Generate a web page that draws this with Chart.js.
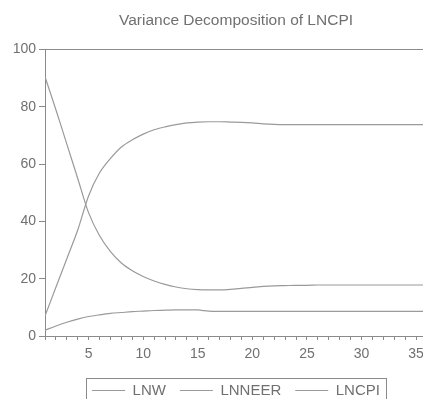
<!DOCTYPE html>
<html>
<head>
<meta charset="utf-8">
<script src="https://cdn.jsdelivr.net/npm/chart.js@4.4.1/dist/chart.umd.min.js"></script>
<style>
  html, body { margin: 0; padding: 0; background: #fff; overflow: hidden; }
  #wrap { width: 427px; height: 414px; }
</style>
</head>
<body>
<div id="wrap"><canvas id="vdChart" width="427" height="414"></canvas></div>
<script>
    // Periods 1..36
    const periods = Array.from({ length: 36 }, (_, i) => i + 1);
    const lnw = [2.0, 3.5, 4.8, 5.9, 6.8, 7.4, 7.9, 8.2, 8.5, 8.7, 8.9, 9.0, 9.1, 9.1, 9.1, 8.7, 8.6, 8.6,
                 8.6, 8.6, 8.6, 8.6, 8.6, 8.6, 8.6, 8.6, 8.6, 8.6, 8.6, 8.6, 8.6, 8.6, 8.6, 8.6, 8.6, 8.6];
    const lnneer = [7.0, 17.0, 27.0, 37.0, 49.0, 57.0, 62.0, 66.0, 68.5, 70.5, 72.0, 73.0, 73.8, 74.4, 74.7, 74.8, 74.8, 74.7,
                    74.6, 74.4, 74.1, 73.9, 73.8, 73.8, 73.8, 73.8, 73.8, 73.8, 73.8, 73.8, 73.8, 73.8, 73.8, 73.8, 73.8, 73.8];
    const lncpi = [90.5, 79.0, 67.0, 55.0, 43.0, 35.0, 29.5, 25.5, 22.8, 20.8, 19.2, 18.0, 17.1, 16.5, 16.2, 16.1, 16.1, 16.3,
                   16.6, 17.0, 17.3, 17.5, 17.6, 17.7, 17.7, 17.8, 17.8, 17.8, 17.8, 17.8, 17.8, 17.8, 17.8, 17.8, 17.8, 17.8];
    const yTicks = [0, 20, 40, 60, 80, 100];

    const lineGrey = '#9a9a9a';
    const axisGrey = '#8a8a8a';
    const textGrey = '#707070';

    // Draw a frame round the legend, like the EViews graph
    const legendBox = {
      id: 'legendBox',
      afterDraw(chart) {
        const boxes = chart.legend.legendHitBoxes;
        if (!boxes || !boxes.length) return;
        const left = Math.min(...boxes.map(b => b.left)) - 6;
        const right = Math.max(...boxes.map(b => b.left + b.width)) + 6;
        const top = Math.min(...boxes.map(b => b.top)) - 5;
        const bottom = Math.max(...boxes.map(b => b.top + b.height)) + 5;
        const c = chart.ctx;
        c.save();
        c.strokeStyle = axisGrey;
        c.lineWidth = 1;
        c.strokeRect(Math.round(left) + 0.5, Math.round(top) + 0.5, Math.round(right - left), Math.round(bottom - top));
        c.restore();
      }
    };

    const ctx = document.getElementById('vdChart').getContext('2d');
    new Chart(ctx, {
      type: 'line',
      data: {
        datasets: [
          { label: 'LNW', data: periods.map((p, i) => ({ x: p, y: lnw[i] })) },
          { label: 'LNNEER', data: periods.map((p, i) => ({ x: p, y: lnneer[i] })) },
          { label: 'LNCPI', data: periods.map((p, i) => ({ x: p, y: lncpi[i] })) }
        ].map(d => Object.assign(d, {
          borderColor: lineGrey,
          backgroundColor: lineGrey,
          borderWidth: 1.2,
          pointRadius: 0,
          tension: 0.3,
          fill: false
        }))
      },
      options: {
        responsive: false,
        animation: false,
        layout: { padding: { top: 0, left: 0, right: 0, bottom: 6 } },
        scales: {
          x: {
            type: 'linear',
            min: 1,
            max: 36,
            afterFit: axis => { axis.height = 33; axis.paddingRight = 0; },
            grid: { color: 'transparent', tickColor: axisGrey, tickLength: 4, drawOnChartArea: false },
            border: { display: true, color: axisGrey },
            ticks: {
              stepSize: 1,
              autoSkip: false,
              maxRotation: 0,
              padding: 6,
              color: textGrey,
              font: { family: 'Liberation Sans', size: 14 },
              callback: v => (v % 5 === 0 ? v : '')
            }
          },
          y: {
            min: 0,
            max: 100,
            afterBuildTicks: axis => { axis.ticks = yTicks.map(v => ({ value: v })); },
            afterFit: axis => { axis.width = 45; },
            grid: {
              color: c => (c.tick && c.tick.value === 100 ? axisGrey : 'transparent'),
              tickColor: axisGrey,
              tickLength: 6
            },
            border: { display: true, color: axisGrey },
            ticks: {
              padding: 3,
              color: textGrey,
              font: { family: 'Liberation Sans', size: 14 }
            }
          }
        },
        plugins: {
          title: {
            display: true,
            text: 'Variance Decomposition of LNCPI',
            fullSize: false,
            color: textGrey,
            font: { family: 'Liberation Sans', size: 15.5, weight: 'normal' },
            padding: { top: 11, bottom: 20 }
          },
          legend: {
            position: 'bottom',
            fullSize: false,
            labels: {
              usePointStyle: true,
              pointStyle: 'line',
              pointStyleWidth: 33,
              color: textGrey,
              padding: 14,
              font: { family: 'Liberation Sans', size: 15 }
            }
          },
          tooltip: { enabled: false }
        }
      },
      plugins: [legendBox]
    });
</script>
</body>
</html>
